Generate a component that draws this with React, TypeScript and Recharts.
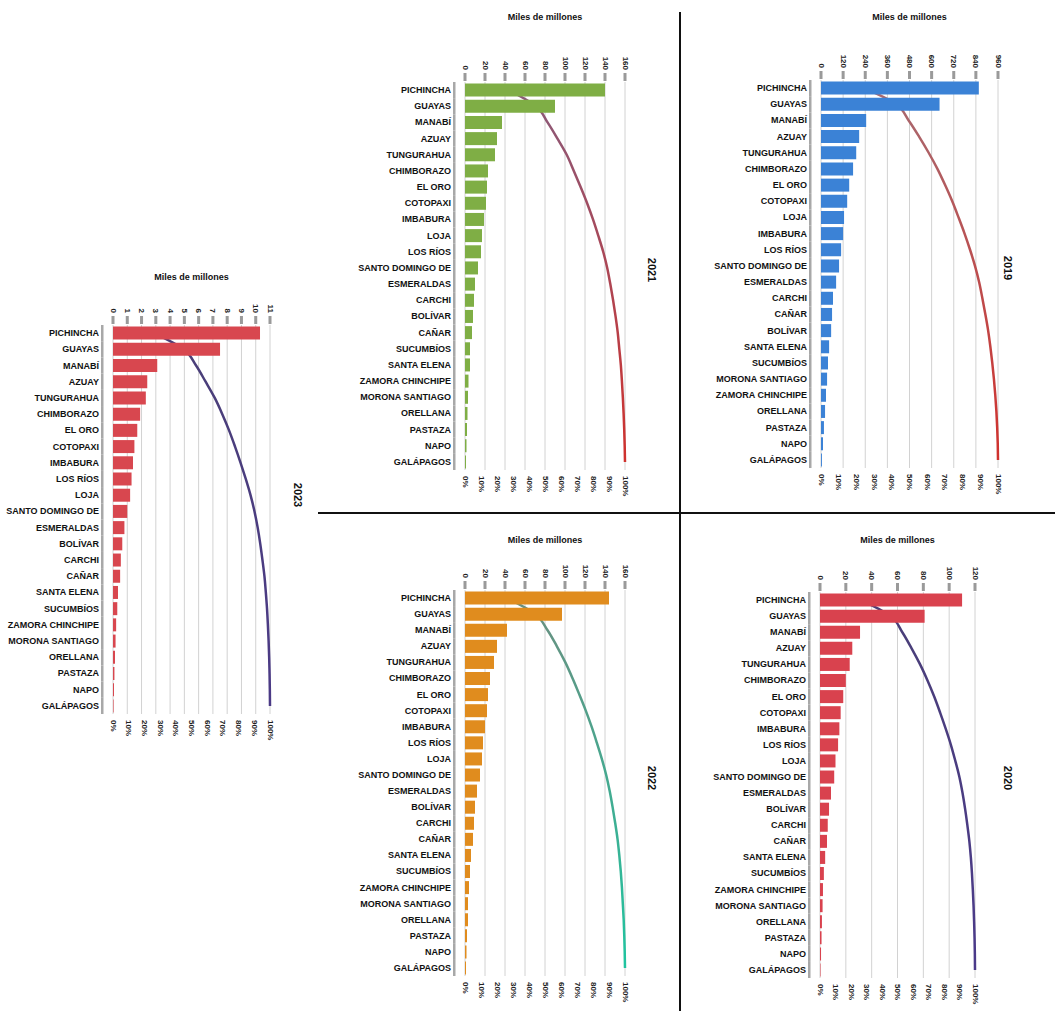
import React from 'react';
import { ComposedChart, Bar, Line, XAxis, YAxis, CartesianGrid } from 'recharts';

const PCT_TICKS = [0, 0.1, 0.2, 0.3, 0.4, 0.5, 0.6, 0.7, 0.8, 0.9, 1];

const provinces2023 = ['PICHINCHA', 'GUAYAS', 'MANABÍ', 'AZUAY', 'TUNGURAHUA', 'CHIMBORAZO', 'EL ORO', 'COTOPAXI', 'IMBABURA', 'LOS RÍOS', 'LOJA', 'SANTO DOMINGO DE LOS TSÁCHILAS', 'ESMERALDAS', 'BOLÍVAR', 'CARCHI', 'CAÑAR', 'SANTA ELENA', 'SUCUMBÍOS', 'ZAMORA CHINCHIPE', 'MORONA SANTIAGO', 'ORELLANA', 'PASTAZA', 'NAPO', 'GALÁPAGOS'];
const values2023 = [10.3, 7.5, 3.1, 2.4, 2.3, 1.9, 1.7, 1.5, 1.4, 1.3, 1.2, 1.0, 0.8, 0.65, 0.55, 0.5, 0.35, 0.3, 0.22, 0.18, 0.14, 0.1, 0.07, 0.04];
const ticks2023 = [0, 1, 2, 3, 4, 5, 6, 7, 8, 9, 10, 11];

const provinces2021 = ['PICHINCHA', 'GUAYAS', 'MANABÍ', 'AZUAY', 'TUNGURAHUA', 'CHIMBORAZO', 'EL ORO', 'COTOPAXI', 'IMBABURA', 'LOJA', 'LOS RÍOS', 'SANTO DOMINGO DE LOS TSÁCHILAS', 'ESMERALDAS', 'CARCHI', 'BOLÍVAR', 'CAÑAR', 'SUCUMBÍOS', 'SANTA ELENA', 'ZAMORA CHINCHIPE', 'MORONA SANTIAGO', 'ORELLANA', 'PASTAZA', 'NAPO', 'GALÁPAGOS'];
const values2021 = [140, 90, 37, 32, 30, 23, 22, 21, 19, 17, 16, 13, 10, 9, 8, 7, 5, 5, 3.5, 3, 2.5, 2, 1.5, 1];
const ticks2021 = [0, 20, 40, 60, 80, 100, 120, 140, 160];

const provinces2019 = ['PICHINCHA', 'GUAYAS', 'MANABÍ', 'AZUAY', 'TUNGURAHUA', 'CHIMBORAZO', 'EL ORO', 'COTOPAXI', 'LOJA', 'IMBABURA', 'LOS RÍOS', 'SANTO DOMINGO DE LOS TSÁCHILAS', 'ESMERALDAS', 'CARCHI', 'CAÑAR', 'BOLÍVAR', 'SANTA ELENA', 'SUCUMBÍOS', 'MORONA SANTIAGO', 'ZAMORA CHINCHIPE', 'ORELLANA', 'PASTAZA', 'NAPO', 'GALÁPAGOS'];
const values2019 = [856, 643, 245, 207, 191, 174, 153, 142, 125, 120, 109, 98, 82, 65, 60, 55, 44, 38, 33, 27, 22, 16, 11, 5];
const ticks2019 = [0, 120, 240, 360, 480, 600, 720, 840, 960];

const provinces2022 = ['PICHINCHA', 'GUAYAS', 'MANABÍ', 'AZUAY', 'TUNGURAHUA', 'CHIMBORAZO', 'EL ORO', 'COTOPAXI', 'IMBABURA', 'LOS RÍOS', 'LOJA', 'SANTO DOMINGO DE LOS TSÁCHILAS', 'ESMERALDAS', 'BOLÍVAR', 'CARCHI', 'CAÑAR', 'SANTA ELENA', 'SUCUMBÍOS', 'ZAMORA CHINCHIPE', 'MORONA SANTIAGO', 'ORELLANA', 'PASTAZA', 'NAPO', 'GALÁPAGOS'];
const values2022 = [144, 97, 42, 32, 29, 25, 23, 22, 20, 18, 17, 15, 12, 10, 9, 8, 6, 5, 4, 3, 3, 2, 1.5, 1];
const ticks2022 = [0, 20, 40, 60, 80, 100, 120, 140, 160];

const provinces2020 = ['PICHINCHA', 'GUAYAS', 'MANABÍ', 'AZUAY', 'TUNGURAHUA', 'CHIMBORAZO', 'EL ORO', 'COTOPAXI', 'IMBABURA', 'LOS RÍOS', 'LOJA', 'SANTO DOMINGO DE LOS TSÁCHILAS', 'ESMERALDAS', 'BOLÍVAR', 'CARCHI', 'CAÑAR', 'SANTA ELENA', 'SUCUMBÍOS', 'ZAMORA CHINCHIPE', 'MORONA SANTIAGO', 'ORELLANA', 'PASTAZA', 'NAPO', 'GALÁPAGOS'];
const values2020 = [110, 81, 31, 25, 23, 20, 18, 16, 15, 14, 12, 11, 8.5, 7, 6, 5.4, 4, 3, 2.3, 2, 1.5, 1.2, 0.8, 0.4];
const ticks2020 = [0, 20, 40, 60, 80, 100, 120];

const FONT = '"Liberation Sans", Arial, sans-serif';
const YW = 112;
const TOPH = 44;
const BOTH = 42;
const MR = 10;

const truncate = (s: string) => (s.length > 16 ? s.slice(0, 16) : s);

type PanelCfg = {
  year: string;
  names: string[];
  values: number[];
  ticks: number[];
  barColor: string;
  lineFrom: string;
  lineTo: string;
  x0: number; x1: number; y0: number; y1: number;
  titleY: number;
  yearX: number; yearY: number;
};

const panels: PanelCfg[] = [
  { year: '2023', names: provinces2023, values: values2023, ticks: ticks2023, barColor: '#d8474f', lineFrom: '#4a3f78', lineTo: '#4b3a86', x0: 113, x1: 270, y0: 325, y1: 714, titleY: 277, yearX: 298, yearY: 495 },
  { year: '2021', names: provinces2021, values: values2021, ticks: ticks2021, barColor: '#7fae45', lineFrom: '#8a5a7a', lineTo: '#d0312d', x0: 465, x1: 625, y0: 82, y1: 470, titleY: 17, yearX: 652, yearY: 270 },
  { year: '2019', names: provinces2019, values: values2019, ticks: ticks2019, barColor: '#3b82d6', lineFrom: '#a86a70', lineTo: '#d0312d', x0: 821, x1: 998, y0: 80, y1: 468, titleY: 17, yearX: 1008, yearY: 268 },
  { year: '2022', names: provinces2022, values: values2022, ticks: ticks2022, barColor: '#e08c1e', lineFrom: '#6a8f80', lineTo: '#1fc4a0', x0: 465, x1: 625, y0: 590, y1: 976, titleY: 540, yearX: 652, yearY: 778 },
  { year: '2020', names: provinces2020, values: values2020, ticks: ticks2020, barColor: '#d9424e', lineFrom: '#4a3f78', lineTo: '#4b3a8a', x0: 820, x1: 975, y0: 592, y1: 978, titleY: 540, yearX: 1008, yearY: 778 },
];

function Panel({ p }: { p: PanelCfg }) {
  const total = p.values.reduce((a, b) => a + b, 0);
  let run = 0;
  const rows = p.names.map((name, i) => {
    run += p.values[i];
    return { name, value: p.values[i], cum: run / total };
  });
  const plotW = p.x1 - p.x0;
  const plotH = p.y1 - p.y0;
  const W = YW + plotW + MR;
  const H = TOPH + plotH + BOTH;
  const band = plotH / rows.length;
  const gid = `grad${p.year}`;
  const maxTick = p.ticks[p.ticks.length - 1];

  const topTick = (props: any) => {
    const { x, payload } = props;
    const ty = TOPH - 12;
    return (
      <g>
        <rect x={x - 1.5} y={TOPH - 9} width={3} height={8} fill="#9a9a9a" />
        <text x={x} y={ty} transform={`rotate(90 ${x} ${ty})`} textAnchor="end" dominantBaseline="central"
          fontSize={8} fontWeight="bold" fontFamily={FONT} fill="#222">{payload.value}</text>
      </g>
    );
  };

  const bottomTick = (props: any) => {
    const { x, payload } = props;
    const ty = TOPH + plotH + 6;
    return (
      <text x={x} y={ty} transform={`rotate(90 ${x} ${ty})`} textAnchor="start" dominantBaseline="central"
        fontSize={8} fontWeight="bold" fontFamily={FONT} fill="#222">{`${Math.round(payload.value * 100)}%`}</text>
    );
  };

  const leftTick = (props: any) => {
    const { y, payload } = props;
    return (
      <g>
        <text x={YW - 14} y={y} textAnchor="end" dominantBaseline="central"
          fontSize={9} fontWeight="bold" fontFamily={FONT} fill="#111">{truncate(payload.value)}</text>
        <rect x={YW - 12} y={y - band / 2} width={2.5} height={band} fill="#a8a8a8" />
      </g>
    );
  };

  return (
    <>
      <div style={{ position: 'absolute', left: p.x0 - 60, width: plotW + 120, top: p.titleY - 6, textAlign: 'center', fontFamily: FONT, fontSize: 9, fontWeight: 'bold', color: '#111', lineHeight: '12px' }}>
        Miles de millones
      </div>
      <div style={{ position: 'absolute', left: p.x0 - YW, top: p.y0 - TOPH }}>
        <ComposedChart layout="vertical" width={W} height={H} data={rows}
          margin={{ top: 0, right: MR, bottom: 0, left: 0 }} barCategoryGap="10%">
          <defs>
            <linearGradient id={gid} x1="0" y1="0" x2="0" y2="1">
              <stop offset="0" stopColor={p.lineFrom} />
              <stop offset="1" stopColor={p.lineTo} />
            </linearGradient>
          </defs>
          <CartesianGrid xAxisId="val" horizontal={false} stroke="#d2d2d2" />
          <XAxis xAxisId="val" type="number" orientation="top" domain={[0, maxTick]} ticks={p.ticks}
            height={TOPH} axisLine={false} tickLine={false} tick={topTick} interval={0} />
          <XAxis xAxisId="pct" type="number" orientation="bottom" domain={[0, 1]} ticks={PCT_TICKS}
            height={BOTH} axisLine={false} tickLine={false} tick={bottomTick} interval={0} />
          <YAxis type="category" dataKey="name" width={YW} axisLine={false} tickLine={false}
            tick={leftTick} interval={0} />
          {/* line sits under the bars, like in the original */}
          <Line xAxisId="pct" dataKey="cum" type="monotone" stroke={`url(#${gid})`} strokeWidth={2.5}
            dot={false} isAnimationActive={false} {...({ zIndex: 250 } as any)} />
          <Bar xAxisId="val" dataKey="value" fill={p.barColor} isAnimationActive={false} {...({ zIndex: 300 } as any)} />
        </ComposedChart>
      </div>
      <div style={{ position: 'absolute', left: p.yearX, top: p.yearY, transform: 'translate(-50%, -50%) rotate(90deg)', fontFamily: FONT, fontSize: 11, fontWeight: 'bold', color: '#111' }}>
        {p.year}
      </div>
    </>
  );
}

export default function App() {
  return (
    <div style={{ position: 'absolute', left: 0, top: 0, width: 1060, height: 1011, background: '#fff', overflow: 'hidden' }}>
      {panels.map((p) => (
        <Panel key={p.year} p={p} />
      ))}
      <div style={{ position: 'absolute', left: 679, top: 12, width: 2, height: 999, background: '#111' }} />
      <div style={{ position: 'absolute', left: 318, top: 512, width: 737, height: 2, background: '#111' }} />
    </div>
  );
}
